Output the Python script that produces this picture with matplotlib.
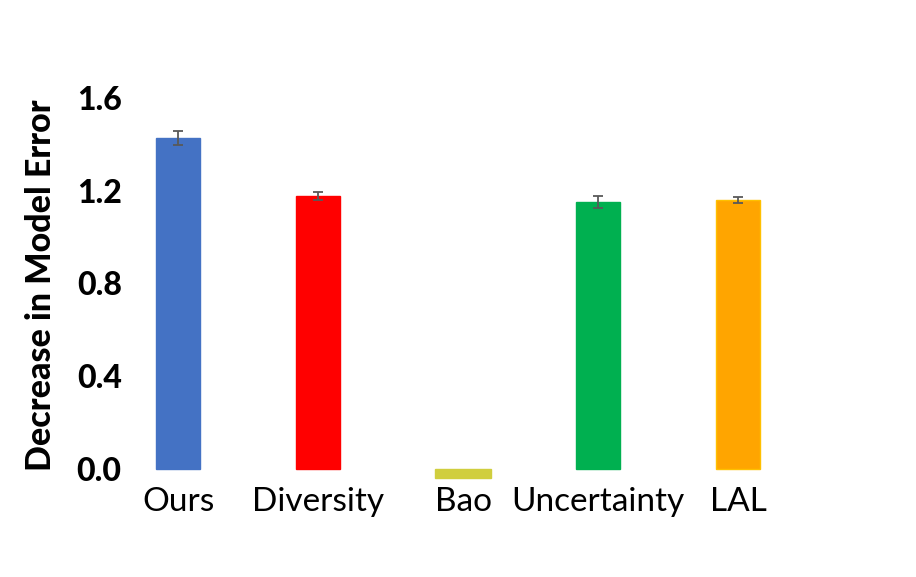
import matplotlib
matplotlib.use("Agg")
import matplotlib.pyplot as plt

categories = ["Ours", "Diversity", "Bao", "Uncertainty", "LAL"]
values = [1.427, 1.177, -0.040, 1.151, 1.159]
errors = [0.029, 0.016, 0.0, 0.026, 0.014]
yticks = [0.0, 0.4, 0.8, 1.2, 1.6]
ytick_labels = ["0.0", "0.4", "0.8", "1.2", "1.6"]

positions = [0, 1, 2.036, 3, 4]
widths = [0.314, 0.314, 0.40, 0.314, 0.314]
colors = ["#4472C4", "#FF0000", "#D0CE3E", "#00B050", "#FFA500"]
edges = ["#4472C4", "#FF0000", "#D0CE3E", "#00B050", "#FFC000"]

plt.rcParams['font.family'] = ['Lato', 'DejaVu Sans']

fig = plt.figure(figsize=(9.16, 5.77), dpi=100)
ax = fig.add_axes([130/916, 97/577, 670/916, 390/577])

for p, v, w, c, e, err in zip(positions, values, widths, colors, edges, errors):
    ax.bar(p, v, width=w, color=c, edgecolor=e, linewidth=1.0)
    if err > 0:
        ax.errorbar(p, v, yerr=err, fmt='none', ecolor='#595959',
                    elinewidth=1.3, capsize=3.8, capthick=1.3)

ax.set_xlim(-0.343, 4.443)
ax.set_ylim(-0.047, 1.634)
ax.set_xticks(positions)
ax.set_xticklabels(categories, fontsize=24)
ax.set_yticks(yticks)
ax.set_yticklabels(ytick_labels, fontsize=23, fontweight='black')
ax.tick_params(axis='both', length=0)
ax.tick_params(axis='x', pad=5)
ax.tick_params(axis='y', pad=6)
for s in ax.spines.values():
    s.set_visible(False)
ax.set_ylabel("Decrease in Model Error", fontsize=24.5, fontweight='black', labelpad=14)

fig.savefig("out.png", dpi=100)
